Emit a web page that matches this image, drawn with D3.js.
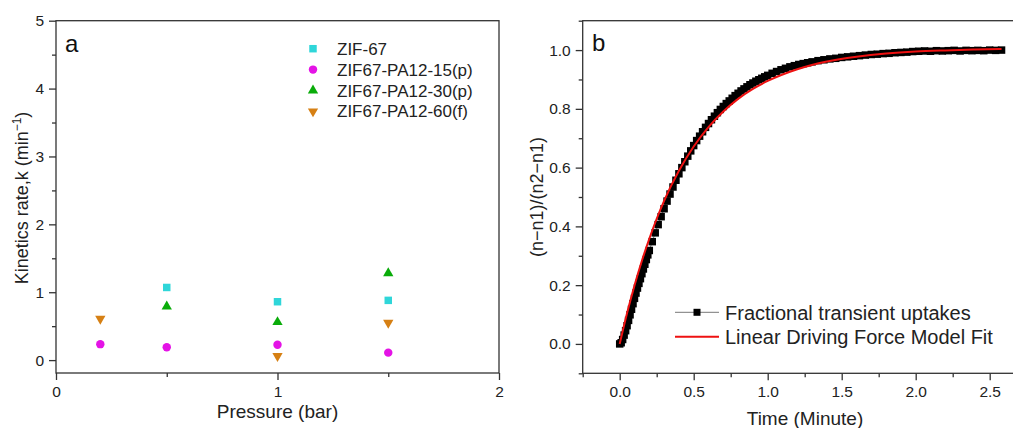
<!DOCTYPE html>
<html>
<head>
<meta charset="utf-8">
<script src="https://cdn.jsdelivr.net/npm/d3@7/dist/d3.min.js"></script>
<style>
  body { margin: 0; background: #fff; }
  svg { display: block; font-family: "Liberation Sans", Arial, sans-serif; }
  .axis path, .axis line { stroke: #333; stroke-width: 1.3; }
  .axis text { fill: #222; }
</style>
</head>
<body>
<div id="chart"></div>
<script>
// ---- panel a: kinetics rate vs pressure
var seriesNames = ['ZIF-67', 'ZIF67-PA12-15(p)', 'ZIF67-PA12-30(p)', 'ZIF67-PA12-60(f)'];
var zif67 = [[0.5, 1.07], [1.0, 0.86], [1.5, 0.88]];
var pa15 = [[0.2, 0.235], [0.5, 0.19], [1.0, 0.225], [1.5, 0.11]];
var pa30 = [[0.5, 0.79], [1.0, 0.56], [1.5, 1.28]];
var pa60 = [[0.2, 0.61], [1.0, 0.06], [1.5, 0.55]];
var pressureTicks = [0, 1, 2];
var rateTicks = [0, 1, 2, 3, 4, 5];

// ---- panel b: fractional uptake vs time
var uptakeTime = [0.00, 0.01, 0.02, 0.03, 0.04, 0.05, 0.06, 0.07, 0.08, 0.09,
  0.10, 0.11, 0.12, 0.13, 0.14, 0.15, 0.16, 0.17, 0.18, 0.19,
  0.20, 0.22, 0.24, 0.26, 0.28, 0.30, 0.32, 0.34, 0.36, 0.38,
  0.40, 0.42, 0.44, 0.46, 0.48, 0.50, 0.52, 0.54, 0.56, 0.58,
  0.60, 0.62, 0.64, 0.66, 0.68, 0.70, 0.72, 0.74, 0.76, 0.78,
  0.80, 0.82, 0.84, 0.86, 0.88, 0.90, 0.92, 0.94, 0.96, 0.98, 1.00,
  1.03, 1.06, 1.09, 1.12, 1.15, 1.18, 1.21, 1.24, 1.27, 1.30,
  1.34, 1.38, 1.42, 1.46, 1.50, 1.54, 1.58, 1.62, 1.66, 1.70,
  1.74, 1.78, 1.82, 1.86, 1.90, 1.94, 1.98, 2.02, 2.06, 2.10,
  2.14, 2.18, 2.22, 2.26, 2.30, 2.34, 2.38, 2.42, 2.46, 2.50, 2.54, 2.58];
var uptakeValue = [0.000, 0.004, 0.015, 0.030, 0.045, 0.062, 0.080, 0.099, 0.118, 0.137,
  0.155, 0.173, 0.190, 0.206, 0.222, 0.239, 0.255, 0.271, 0.287, 0.303,
  0.318, 0.348, 0.378, 0.406, 0.433, 0.460, 0.486, 0.510, 0.534, 0.557,
  0.579, 0.600, 0.620, 0.639, 0.657, 0.675, 0.692, 0.707, 0.722, 0.737,
  0.750, 0.763, 0.775, 0.787, 0.798, 0.808, 0.818, 0.827, 0.836, 0.845,
  0.853, 0.861, 0.868, 0.875, 0.882, 0.888, 0.894, 0.899, 0.904, 0.909, 0.914,
  0.921, 0.927, 0.933, 0.938, 0.943, 0.947, 0.951, 0.954, 0.957, 0.960,
  0.964, 0.967, 0.970, 0.972, 0.975, 0.977, 0.979, 0.981, 0.983, 0.985,
  0.986, 0.988, 0.989, 0.991, 0.992, 0.993, 0.995, 0.996, 0.997, 0.996,
  0.998, 0.997, 0.998, 0.999, 0.997, 0.999, 0.998, 0.999, 0.998, 1.000, 0.999, 1.000];
var fitTime = [0, 0.05, 0.1, 0.15, 0.2, 0.25, 0.3, 0.4, 0.5, 0.6, 0.7, 0.8, 0.9, 1.0,
  1.2, 1.4, 1.6, 1.8, 2.0, 2.2, 2.4, 2.58];
var fitValue = [0, 0.105, 0.199, 0.283, 0.358, 0.426, 0.487, 0.589, 0.672, 0.738, 0.791, 0.834, 0.868, 0.895,
  0.935, 0.961, 0.977, 0.988, 0.995, 0.999, 1.002, 1.004];
var timeTicks = [0, 0.5, 1.0, 1.5, 2.0, 2.5];
var uptakeTicks = [0, 0.2, 0.4, 0.6, 0.8, 1.0];

var width = 1013, height = 428;
var svg = d3.select('#chart').append('svg')
            .attr('width', width)
            .attr('height', height);

function drawFrame(g, x, y, opts) {
  var x0 = x.range()[0], x1 = x.range()[1];
  var y0 = y.range()[0], y1 = y.range()[1];

  // minor ticks first, then major ticks with labels
  g.append('g').attr('class', 'axis')
   .attr('transform', 'translate(0,' + y0 + ')')
   .call(d3.axisBottom(x).tickValues(opts.xMinor).tickSize(4).tickFormat(''))
   .select('.domain').remove();
  g.append('g').attr('class', 'axis')
   .attr('transform', 'translate(0,' + y0 + ')')
   .call(d3.axisBottom(x).tickValues(opts.xTicks).tickSize(7).tickPadding(6).tickFormat(opts.xFormat))
   .call(function(a) { a.selectAll('text').attr('font-size', opts.tickFont); })
   .select('.domain').remove();

  g.append('g').attr('class', 'axis')
   .attr('transform', 'translate(' + x0 + ',0)')
   .call(d3.axisLeft(y).tickValues(opts.yMinor).tickSize(4).tickFormat(''))
   .select('.domain').remove();
  g.append('g').attr('class', 'axis')
   .attr('transform', 'translate(' + x0 + ',0)')
   .call(d3.axisLeft(y).tickValues(opts.yTicks).tickSize(7).tickPadding(5).tickFormat(opts.yFormat))
   .call(function(a) { a.selectAll('text').attr('font-size', opts.tickFont); })
   .select('.domain').remove();

  // box
  g.append('rect')
   .attr('x', x0).attr('y', y1)
   .attr('width', x1 - x0).attr('height', y0 - y1)
   .attr('fill', 'none')
   .attr('stroke', '#333')
   .attr('stroke-width', 1.3);
}

// ---------------- panel a
var xa = d3.scaleLinear().domain([0, 2]).range([56, 499]);
var ya = d3.scaleLinear().domain([-0.19, 5]).range([373, 20.7]);

var ga = svg.append('g').attr('class', 'panelA');
drawFrame(ga, xa, ya, {
  xTicks: pressureTicks, xMinor: [0.5, 1.5], xFormat: d3.format('d'),
  yTicks: rateTicks, yMinor: [0.5, 1.5, 2.5, 3.5, 4.5], yFormat: d3.format('d'),
  tickFont: 15.5
});

var markerDefs = [
  { data: zif67, color: '#2fd6d9', symbol: d3.symbolSquare, size: 56, rot: 0 },
  { data: pa15, color: '#e413e6', symbol: d3.symbolCircle, size: 56, rot: 0 },
  { data: pa30, color: '#0aac0a', symbol: d3.symbolTriangle, size: 46, rot: 0 },
  { data: pa60, color: '#d68014', symbol: d3.symbolTriangle, size: 46, rot: 180 }
];

markerDefs.forEach(function(m, i) {
  var sym = d3.symbol().type(m.symbol).size(m.size);
  ga.append('g').attr('class', 'series_' + i)
    .selectAll('path').data(m.data)
    .enter().append('path')
    .attr('d', sym)
    .attr('fill', m.color)
    .attr('transform', function(d) {
      return 'translate(' + xa(d[0]) + ',' + ya(d[1]) + ') rotate(' + m.rot + ')';
    });

  var ly = 48.7 + i * 20.9;
  ga.append('path')
    .attr('d', sym)
    .attr('fill', m.color)
    .attr('transform', 'translate(313,' + ly + ') rotate(' + m.rot + ')');
  ga.append('text')
    .attr('x', 337).attr('y', ly + 6)
    .attr('font-size', 17).attr('fill', '#222')
    .text(seriesNames[i]);
});

ga.append('text').attr('x', 65).attr('y', 52)
  .attr('font-size', 24).attr('fill', '#111').text('a');

ga.append('text')
  .attr('x', (56 + 499) / 2).attr('y', 418)
  .attr('text-anchor', 'middle').attr('font-size', 19).attr('fill', '#222')
  .text('Pressure (bar)');

var yTitleA = ga.append('text')
  .attr('transform', 'translate(28,198) rotate(-90)')
  .attr('text-anchor', 'middle').attr('font-size', 18).attr('fill', '#222');
yTitleA.append('tspan').text('Kinetics rate,k (min');
yTitleA.append('tspan').attr('font-size', 12).attr('dy', -7).text('\u22121');
yTitleA.append('tspan').attr('dy', 7).text(')');

// ---------------- panel b
var xb = d3.scaleLinear().domain([-0.25, 2.75]).range([582.7, 1026.7]);
var yb = d3.scaleLinear().domain([-0.1, 1.1]).range([373.3, 20.7]);

var gb = svg.append('g').attr('class', 'panelB');
drawFrame(gb, xb, yb, {
  xTicks: timeTicks, xMinor: [-0.25, 0.25, 0.75, 1.25, 1.75, 2.25], xFormat: d3.format('.1f'),
  yTicks: uptakeTicks, yMinor: [-0.1, 0.1, 0.3, 0.5, 0.7, 0.9, 1.1], yFormat: d3.format('.1f'),
  tickFont: 15.5
});

var uptake = uptakeTime.map(function(t, i) { return [t, uptakeValue[i]]; });
var fit = fitTime.map(function(t, i) { return [t, fitValue[i]]; });

var lineFunc = d3.line()
                 .x(function(d) { return xb(d[0]); })
                 .y(function(d) { return yb(d[1]); });

gb.append('path')
  .attr('d', lineFunc(uptake))
  .attr('fill', 'none').attr('stroke', '#777').attr('stroke-width', 1);

var squareSym = d3.symbol().type(d3.symbolSquare).size(56);
gb.append('g').attr('class', 'uptakePoints')
  .selectAll('path').data(uptake)
  .enter().append('path')
  .attr('d', squareSym)
  .attr('fill', '#000')
  .attr('transform', function(d) { return 'translate(' + xb(d[0]) + ',' + yb(d[1]) + ')'; });

gb.append('path')
  .attr('d', lineFunc.curve(d3.curveMonotoneX)(fit))
  .attr('fill', 'none').attr('stroke', '#ee1111').attr('stroke-width', 2);

// legend b
gb.append('line').attr('x1', 675).attr('x2', 719).attr('y1', 312.3).attr('y2', 312.3)
  .attr('stroke', '#777').attr('stroke-width', 1);
gb.append('path').attr('d', d3.symbol().type(d3.symbolSquare).size(49)).attr('fill', '#000')
  .attr('transform', 'translate(697,312.3)');
gb.append('text').attr('x', 725).attr('y', 319.5)
  .attr('font-size', 20).attr('fill', '#222').text('Fractional transient uptakes');
gb.append('line').attr('x1', 675).attr('x2', 719).attr('y1', 336.7).attr('y2', 336.7)
  .attr('stroke', '#ee1111').attr('stroke-width', 2);
gb.append('text').attr('x', 725).attr('y', 344)
  .attr('font-size', 20).attr('fill', '#222').text('Linear Driving Force Model Fit');

gb.append('text').attr('x', 592).attr('y', 51)
  .attr('font-size', 24).attr('fill', '#111').text('b');

gb.append('text')
  .attr('x', 805).attr('y', 425)
  .attr('text-anchor', 'middle').attr('font-size', 19).attr('fill', '#222')
  .text('Time (Minute)');

gb.append('text')
  .attr('transform', 'translate(543,197) rotate(-90)')
  .attr('text-anchor', 'middle').attr('font-size', 18).attr('fill', '#222')
  .text('(n\u2212n1)/(n2\u2212n1)');
</script>
</body>
</html>
